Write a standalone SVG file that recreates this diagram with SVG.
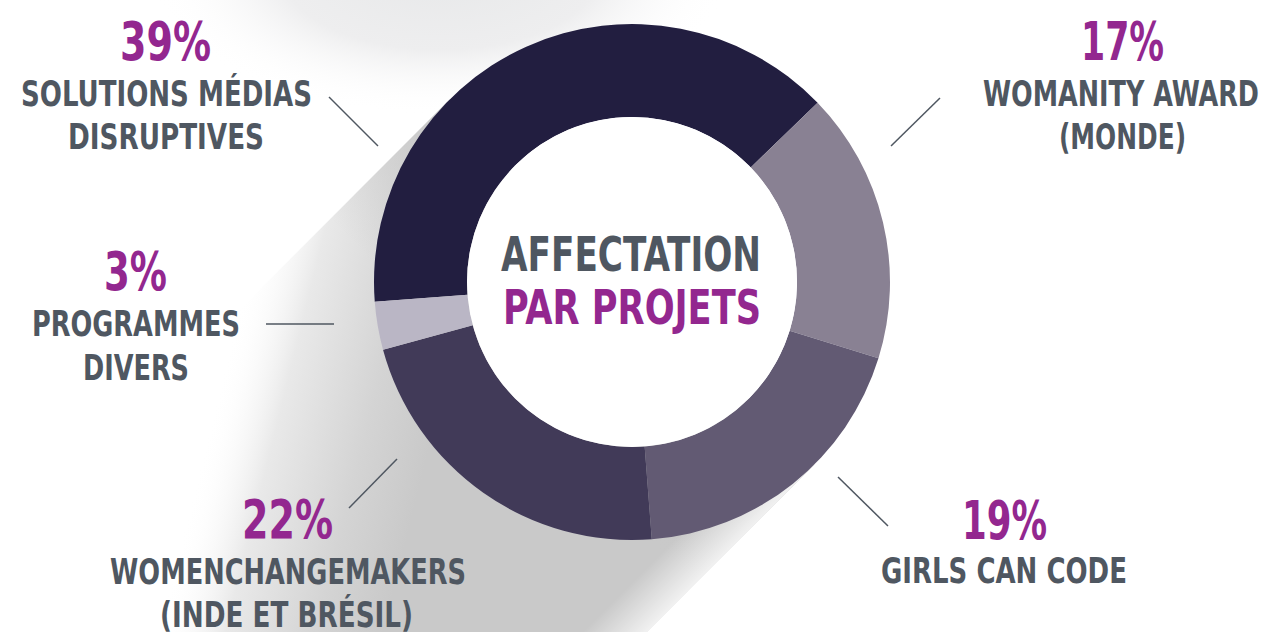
<svg xmlns="http://www.w3.org/2000/svg" width="1265" height="632" viewBox="0 0 1265 632">
<style>
.pct{font-family:"DejaVu Sans Condensed","DejaVu Sans","Liberation Sans",sans-serif;font-stretch:condensed;font-weight:bold;font-size:54px;fill:#93278f;text-anchor:middle}
.lbl{font-family:"DejaVu Sans Condensed","DejaVu Sans","Liberation Sans",sans-serif;font-stretch:condensed;font-weight:bold;font-size:36px;fill:#4f5761;text-anchor:middle}
.ttl{font-family:"DejaVu Sans Condensed","DejaVu Sans","Liberation Sans",sans-serif;font-stretch:condensed;font-weight:bold;font-size:48px;text-anchor:middle}
.lead{stroke:#4f5761;stroke-width:1.5;fill:none}
</style>
<defs>
<linearGradient id="shMain" gradientUnits="userSpaceOnUse" x1="240" y1="300" x2="453" y2="353">
<stop offset="0" stop-color="#ffffff" stop-opacity="0"/>
<stop offset="0.3" stop-color="#e9e9e9"/>
<stop offset="0.7" stop-color="#d4d4d4"/>
<stop offset="1" stop-color="#c9c9c9"/>
</linearGradient>
<linearGradient id="shNear" gradientUnits="userSpaceOnUse" x1="449.6" y1="99.6" x2="330" y2="219">
<stop offset="0" stop-color="#c6c6c6" stop-opacity="0.95"/>
<stop offset="1" stop-color="#c6c6c6" stop-opacity="0"/>
</linearGradient>
<linearGradient id="shEdge" gradientUnits="userSpaceOnUse" x1="607" y1="607" x2="639.5" y2="639.5">
<stop offset="0" stop-color="#ffffff" stop-opacity="0"/>
<stop offset="1" stop-color="#ffffff" stop-opacity="0.75"/>
</linearGradient>
<radialGradient id="topBlob" cx="0.5" cy="0.5" r="0.5">
<stop offset="0" stop-color="#e7e8e9"/>
<stop offset="0.55" stop-color="#eeeeef"/>
<stop offset="1" stop-color="#ffffff" stop-opacity="0"/>
</radialGradient>
</defs>
<rect width="1265" height="632" fill="#ffffff"/>
<g id="background-shadow">
<ellipse cx="440" cy="-30" rx="290" ry="145" fill="url(#topBlob)"/>
<polygon points="449.6,99.6 814.4,464.4 114.4,1164.4 -250.4,799.6" fill="url(#shMain)"/>
<polygon points="449.6,99.6 814.4,464.4 114.4,1164.4 -250.4,799.6" fill="url(#shNear)"/>
<polygon points="768.4,418.4 814.4,464.4 114.4,1164.4 68.4,1118.4" fill="url(#shEdge)"/>
</g>
<g id="connectors">
<line class="lead" x1="329" y1="97" x2="378" y2="146"/>
<line class="lead" x1="940" y1="98" x2="891" y2="146"/>
<line class="lead" x1="266" y1="324" x2="334" y2="324"/>
<line class="lead" x1="397" y1="459" x2="349" y2="508"/>
<line class="lead" x1="838" y1="477" x2="888" y2="526"/>
</g>
<g id="seg-39">
<path d="M 374.76 301.79 A 258 258 0 0 1 817.59 102.78 L 750.69 167.38 A 165 165 0 0 0 467.49 294.66 Z" fill="#221e40"/>
</g>
<g id="seg-17">
<path d="M 817.59 102.78 A 258 258 0 0 1 878.46 358.29 L 789.62 330.79 A 165 165 0 0 0 750.69 167.38 Z" fill="#898193"/>
</g>
<g id="seg-19">
<path d="M 878.46 358.29 A 258 258 0 0 1 651.79 539.24 L 644.66 446.51 A 165 165 0 0 0 789.62 330.79 Z" fill="#625a73"/>
</g>
<g id="seg-22">
<path d="M 651.79 539.24 A 258 258 0 0 1 383.02 349.64 L 472.77 325.26 A 165 165 0 0 0 644.66 446.51 Z" fill="#413a58"/>
</g>
<g id="seg-3">
<path d="M 383.02 349.64 A 258 258 0 0 1 374.76 301.79 L 467.49 294.66 A 165 165 0 0 0 472.77 325.26 Z" fill="#bab6c5"/>
</g>
<g id="center">
<circle cx="632" cy="282" r="165" fill="#ffffff"/>
<text class="ttl" x="631" y="271" fill="#4f5761" textLength="260" lengthAdjust="spacingAndGlyphs">AFFECTATION</text>
<text class="ttl" x="632" y="324" fill="#93278f" textLength="258" lengthAdjust="spacingAndGlyphs">PAR PROJETS</text>
</g>
<g id="label-39">
<text class="pct" x="165.5" y="60" textLength="91" lengthAdjust="spacingAndGlyphs">39%</text>
<text class="lbl" x="166.5" y="106" textLength="291" lengthAdjust="spacingAndGlyphs">SOLUTIONS MÉDIAS</text>
<text class="lbl" x="166" y="149" textLength="196" lengthAdjust="spacingAndGlyphs">DISRUPTIVES</text>
</g>
<g id="label-3">
<text class="pct" x="135.5" y="290" textLength="63" lengthAdjust="spacingAndGlyphs">3%</text>
<text class="lbl" x="136" y="336" textLength="208" lengthAdjust="spacingAndGlyphs">PROGRAMMES</text>
<text class="lbl" x="136" y="380" textLength="106" lengthAdjust="spacingAndGlyphs">DIVERS</text>
</g>
<g id="label-22">
<text class="pct" x="287.5" y="538" textLength="91" lengthAdjust="spacingAndGlyphs">22%</text>
<text class="lbl" x="288" y="584" textLength="356" lengthAdjust="spacingAndGlyphs">WOMENCHANGEMAKERS</text>
<text class="lbl" x="286.5" y="627" textLength="253" lengthAdjust="spacingAndGlyphs">(INDE ET BRÉSIL)</text>
</g>
<g id="label-17">
<text class="pct" x="1122.5" y="60" textLength="83" lengthAdjust="spacingAndGlyphs">17%</text>
<text class="lbl" x="1121" y="106" textLength="276" lengthAdjust="spacingAndGlyphs">WOMANITY AWARD</text>
<text class="lbl" x="1122.5" y="149" textLength="127" lengthAdjust="spacingAndGlyphs">(MONDE)</text>
</g>
<g id="label-19">
<text class="pct" x="1004.5" y="539" textLength="85" lengthAdjust="spacingAndGlyphs">19%</text>
<text class="lbl" x="1004" y="583" textLength="246" lengthAdjust="spacingAndGlyphs">GIRLS CAN CODE</text>
</g>
</svg>
